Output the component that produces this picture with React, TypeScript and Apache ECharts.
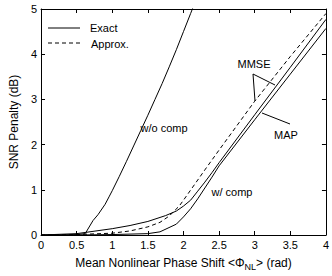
import React, { useEffect, useRef } from "react";
import * as echarts from "echarts";

const xTickLabels = ["0", "0.5", "1", "1.5", "2", "2.5", "3", "3.5", "4"];
const yTickLabels = ["0", "1", "2", "3", "4", "5"];

const woX = [0, 0.2, 0.4, 0.5, 0.62, 0.73, 0.8, 0.9, 0.96, 1.0, 1.1, 1.2, 1.3, 1.4, 1.5, 1.6, 1.7, 1.8, 1.9, 2.0, 2.1, 2.2];
const woY = [0, 0, 0.005, 0.01, 0.03, 0.32, 0.45, 0.68, 0.86, 0.98, 1.3, 1.63, 1.97, 2.31, 2.65, 3.0, 3.35, 3.72, 4.1, 4.5, 4.9, 5.3];

const mmseExactX = [0, 0.5, 1.0, 1.25, 1.5, 1.75, 1.9, 2.0, 2.1, 2.2, 2.3, 2.4, 2.5, 3.0, 3.5, 4.0];
const mmseExactY = [0, 0.03, 0.14, 0.21, 0.3, 0.43, 0.53, 0.64, 0.77, 0.97, 1.17, 1.38, 1.6, 2.66, 3.71, 4.77];

const mapX = [0, 0.5, 1.0, 1.5, 1.67, 1.9, 2.0, 2.1, 2.2, 2.3, 2.4, 2.5, 3.0, 3.5, 4.0];
const mapY = [0, 0, 0.01, 0.03, 0.07, 0.24, 0.4, 0.58, 0.8, 1.04, 1.28, 1.53, 2.55, 3.56, 4.57];

const mmseApproxX = [0, 0.5, 1.0, 1.25, 1.5, 1.67, 1.8, 1.94, 2.0, 2.3, 2.5, 3.0, 3.5, 4.0];
const mmseApproxY = [0, 0.01, 0.04, 0.09, 0.18, 0.28, 0.42, 0.64, 0.77, 1.44, 1.88, 2.96, 3.95, 4.9];

const FONT = "'Liberation Sans', Arial, Helvetica, sans-serif";

const pairs = (xs: number[], ys: number[]) => xs.map((x, i) => [x, ys[i]]);

export default function App() {
  const ref = useRef<HTMLDivElement>(null);
  useEffect(() => {
    if (!ref.current) return;
    const chart = echarts.init(ref.current, null, { renderer: "svg" });
    const lineStyleSolid = { color: "#000", width: 1, type: "solid" as const };
    const lineStyleDashed = { color: "#000", width: 1, type: [4, 3] as any };
    const tickCommon = { show: true, inside: true, length: 4, lineStyle: { color: "#000", width: 1 } };
    const axisLine = { show: true, onZero: false, lineStyle: { color: "#000", width: 1 } };
    const labelStyle = { color: "#000", fontSize: 11, fontFamily: FONT };
    chart.setOption({
      animation: false,
      backgroundColor: "#fff",
      grid: { left: 29, right: 6, top: 9, bottom: 33, containLabel: false },
      xAxis: [
        {
          type: "value",
          min: 0,
          max: 4,
          interval: 0.5,
          position: "bottom",
          axisLine,
          axisTick: tickCommon,
          splitLine: { show: false },
          axisLabel: { ...labelStyle, margin: 4, formatter: (v: number) => xTickLabels[Math.round(v * 2)] ?? "" },
          name: "Mean Nonlinear Phase Shift <Φ{sub|NL}> (rad)",
          nameLocation: "middle",
          nameGap: 20,
          nameTextStyle: {
            color: "#000",
            fontSize: 12,
            fontFamily: FONT,
            rich: {
              sub: { fontSize: 9, fontFamily: FONT, color: "#000", padding: [7, 0, 0, 0] },
            },
          },
        },
        {
          type: "value",
          min: 0,
          max: 4,
          interval: 0.5,
          position: "top",
          axisLine,
          axisTick: tickCommon,
          splitLine: { show: false },
          axisLabel: { show: false },
        },
      ],
      yAxis: [
        {
          type: "value",
          min: 0,
          max: 5,
          interval: 1,
          position: "left",
          axisLine,
          axisTick: tickCommon,
          splitLine: { show: false },
          axisLabel: { ...labelStyle, margin: 4, formatter: (v: number) => yTickLabels[Math.round(v)] ?? "" },
          name: "SNR Penalty (dB)",
          nameLocation: "middle",
          nameGap: 20,
          nameTextStyle: { color: "#000", fontSize: 12, fontFamily: FONT },
        },
        {
          type: "value",
          min: 0,
          max: 5,
          interval: 1,
          position: "right",
          axisLine,
          axisTick: tickCommon,
          splitLine: { show: false },
          axisLabel: { show: false },
        },
      ],
      series: [
        { type: "line", name: "w/o comp", data: pairs(woX, woY), showSymbol: false, symbol: "none", lineStyle: lineStyleSolid, clip: true },
        { type: "line", name: "MMSE exact", data: pairs(mmseExactX, mmseExactY), showSymbol: false, symbol: "none", lineStyle: lineStyleSolid, clip: true },
        { type: "line", name: "MAP", data: pairs(mapX, mapY), showSymbol: false, symbol: "none", lineStyle: lineStyleSolid, clip: true },
        { type: "line", name: "MMSE approx", data: pairs(mmseApproxX, mmseApproxY), showSymbol: false, symbol: "none", lineStyle: lineStyleDashed, clip: true },
      ],
      graphic: [
        { type: "line", shape: { x1: 48, y1: 28, x2: 80, y2: 28 }, style: { stroke: "#000", lineWidth: 1 } },
        { type: "text", x: 90, y: 28, style: { text: "Exact", fontSize: 11, fontFamily: FONT, fill: "#000", verticalAlign: "middle" } },
        { type: "line", shape: { x1: 48, y1: 43, x2: 80, y2: 43 }, style: { stroke: "#000", lineWidth: 1, lineDash: [4, 3] } },
        { type: "text", x: 91, y: 44, style: { text: "Approx.", fontSize: 11, fontFamily: FONT, fill: "#000", verticalAlign: "middle" } },
        { type: "text", x: 164, y: 128, style: { text: "w/o comp", fontSize: 11, fontFamily: FONT, fill: "#000", align: "center", verticalAlign: "middle" } },
        { type: "text", x: 232, y: 192, style: { text: "w/ comp", fontSize: 11, fontFamily: FONT, fill: "#000", align: "center", verticalAlign: "middle" } },
        { type: "text", x: 254, y: 64, style: { text: "MMSE", fontSize: 11, fontFamily: FONT, fill: "#000", align: "center", verticalAlign: "middle" } },
        { type: "text", x: 286, y: 135, style: { text: "MAP", fontSize: 11, fontFamily: FONT, fill: "#000", align: "center", verticalAlign: "middle" } },
        { type: "line", shape: { x1: 253, y1: 74, x2: 255, y2: 101 }, style: { stroke: "#000", lineWidth: 1 } },
        { type: "line", shape: { x1: 253, y1: 74, x2: 275, y2: 85 }, style: { stroke: "#000", lineWidth: 1 } },
        { type: "line", shape: { x1: 262, y1: 113, x2: 290, y2: 124 }, style: { stroke: "#000", lineWidth: 1 } },
      ],
    });
    return () => chart.dispose();
  }, []);
  return <div ref={ref} style={{ position: "fixed", left: 0, top: 0, width: 332, height: 276 }} />;
}
